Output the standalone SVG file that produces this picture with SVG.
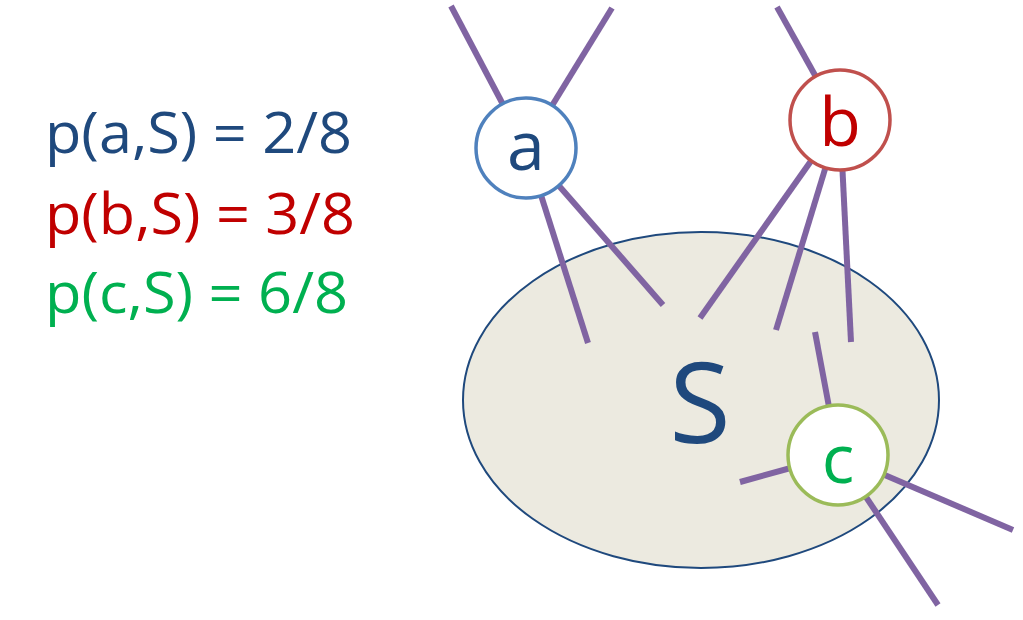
<svg xmlns="http://www.w3.org/2000/svg" width="1023" height="620" viewBox="0 0 1023 620">
<style>
.edge{stroke:#8064A2;stroke-width:6;fill:none}
.node{fill:#fff;stroke-width:3.5}
.lbl{font-family:"Open Sans","Noto Sans",sans-serif;text-anchor:middle;font-size:68px}
.eq{font-family:"Open Sans","Noto Sans",sans-serif;font-size:57px}
</style>
<rect width="1023" height="620" fill="#fff"/>
<g id="set-S">
<ellipse cx="701" cy="400" rx="238" ry="168" fill="#ECEAE0" stroke="#1F497D" stroke-width="2"/>
<text x="700" y="443" font-family="'Open Sans','Noto Sans',sans-serif" font-size="112" fill="#1F497D" text-anchor="middle">S</text>
</g>
<g id="connectors">
<line class="edge" x1="451" y1="6" x2="526" y2="148"/>
<line class="edge" x1="612" y1="8" x2="526" y2="148"/>
<line class="edge" x1="526" y1="148" x2="588" y2="343"/>
<line class="edge" x1="526" y1="148" x2="663" y2="305"/>
<line class="edge" x1="777" y1="7" x2="840" y2="120"/>
<line class="edge" x1="840" y1="120" x2="700" y2="318"/>
<line class="edge" x1="840" y1="120" x2="776" y2="330"/>
<line class="edge" x1="840" y1="120" x2="851" y2="342"/>
<line class="edge" x1="815" y1="332" x2="838" y2="455"/>
<line class="edge" x1="740" y1="482" x2="838" y2="455"/>
<line class="edge" x1="1013" y1="530" x2="838" y2="455"/>
<line class="edge" x1="938" y1="605" x2="838" y2="455"/>
</g>
<g id="node-a">
<circle class="node" cx="526" cy="148" r="50" stroke="#4F81BD"/>
<text class="lbl" x="526" y="170" fill="#1F497D">a</text>
</g>
<g id="node-b">
<circle class="node" cx="840" cy="120" r="50" stroke="#C0504D"/>
<text class="lbl" x="840" y="146" fill="#C00000">b</text>
</g>
<g id="node-c">
<circle class="node" cx="838" cy="455" r="50" stroke="#9BBB59"/>
<text class="lbl" x="838" y="483" fill="#00B050">c</text>
</g>
<g id="equations">
<text class="eq" x="45" y="153" fill="#1F497D" textLength="307" lengthAdjust="spacingAndGlyphs">p(a,S) = 2/8</text>
<text class="eq" x="45" y="234" fill="#C00000" textLength="310" lengthAdjust="spacingAndGlyphs">p(b,S) = 3/8</text>
<text class="eq" x="45" y="313" fill="#00B050" textLength="303" lengthAdjust="spacingAndGlyphs">p(c,S) = 6/8</text>
</g>
</svg>
